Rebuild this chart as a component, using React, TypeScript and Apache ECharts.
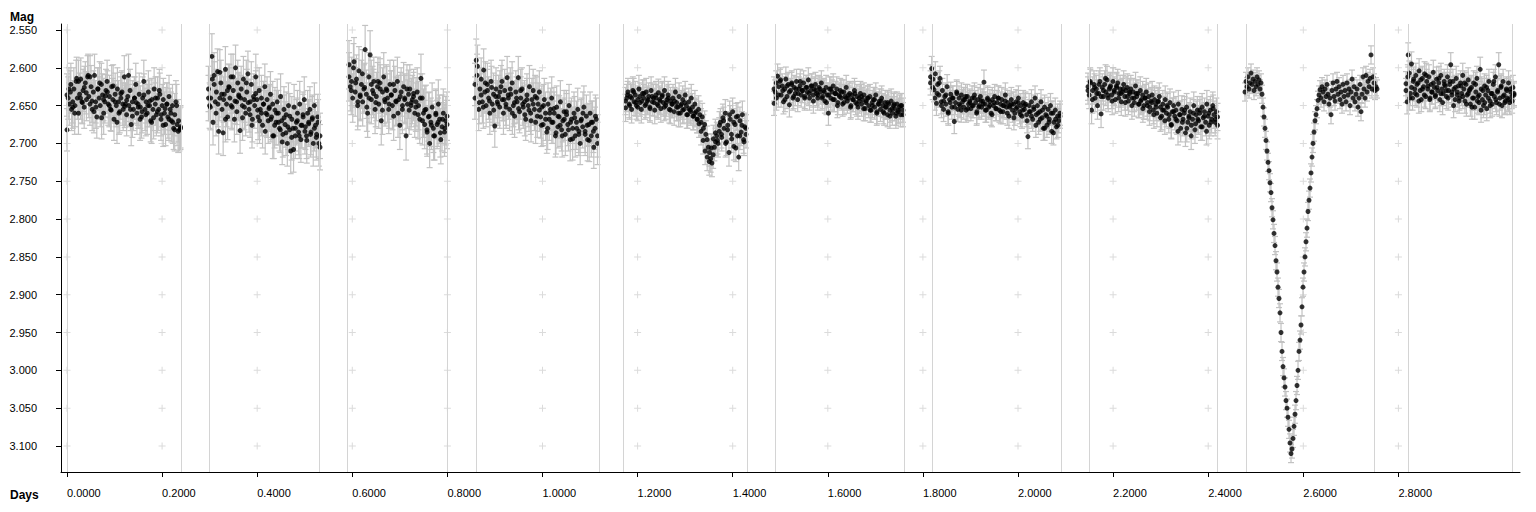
import React, { useEffect, useRef } from "react";
import * as echarts from "echarts";

// Observing sessions (days) and typical error per session
const sessionStart = [0.0, 0.2976, 0.5931, 0.858, 1.1746, 1.4869, 1.816, 2.1472, 2.4774, 2.816];
const sessionEnd = [0.2387, 0.5321, 0.7992, 1.1157, 1.428, 1.7581, 2.0883, 2.4196, 2.755, 3.0431];
const sessionError = [0.028, 0.03, 0.032, 0.028, 0.018, 0.016, 0.016, 0.018, 0.012, 0.016];

const mag1 = [
  2.682, 2.640, 2.648, 2.632, 2.655, 2.645, 2.628, 2.650, 2.618, 2.640,
  2.660, 2.635, 2.615, 2.645, 2.630, 2.652, 2.620, 2.642, 2.612, 2.638,
  2.648, 2.625, 2.655, 2.632, 2.610, 2.645, 2.665, 2.628, 2.640, 2.650,
  2.622, 2.636, 2.660, 2.645, 2.630, 2.618, 2.648, 2.638, 2.655, 2.625,
  2.642, 2.668, 2.635, 2.650, 2.628, 2.645, 2.658, 2.640, 2.632, 2.655,
  2.612, 2.648, 2.662, 2.638, 2.650, 2.630, 2.675, 2.645, 2.655, 2.640,
  2.622, 2.660, 2.648, 2.635, 2.652, 2.665, 2.640, 2.618, 2.655, 2.645,
  2.660, 2.632, 2.650, 2.670, 2.642, 2.655, 2.628, 2.648, 2.662, 2.640,
  2.655, 2.635, 2.668, 2.650, 2.642, 2.660, 2.675, 2.648, 2.665, 2.638,
  2.655, 2.670, 2.650, 2.680, 2.662, 2.645, 2.675, 2.684, 2.682, 2.680,
];
const mag1b = [
  2.636, 2.628, 2.622, 2.652, 2.660, 2.614, 2.618, 2.640, 2.646, 2.626,
  2.633, 2.610, 2.612, 2.644, 2.658, 2.652, 2.628, 2.620, 2.666, 2.642,
  2.637, 2.632, 2.650, 2.656, 2.624, 2.645, 2.672, 2.660, 2.634, 2.648,
  2.651, 2.643, 2.610, 2.655, 2.664, 2.640, 2.646, 2.652, 2.668, 2.658,
  2.636, 2.662, 2.650, 2.644, 2.672, 2.666, 2.640, 2.658, 2.630, 2.662,
  2.676, 2.654, 2.648, 2.668, 2.660, 2.672, 2.682, 2.650, 2.670, 2.678,
];
const mag2 = [
  2.628, 2.650, 2.640, 2.585, 2.672, 2.610, 2.645, 2.632, 2.605, 2.684,
  2.640, 2.620, 2.655, 2.686, 2.635, 2.602, 2.648, 2.665, 2.625, 2.640,
  2.612, 2.652, 2.630, 2.668, 2.600, 2.645, 2.620, 2.638, 2.683, 2.628,
  2.650, 2.615, 2.642, 2.660, 2.632, 2.608, 2.655, 2.645, 2.622, 2.668,
  2.638, 2.650, 2.612, 2.642, 2.665, 2.630, 2.655, 2.640, 2.676, 2.648,
  2.625, 2.660, 2.642, 2.670, 2.652, 2.635, 2.665, 2.648, 2.690, 2.656,
  2.672, 2.645, 2.660, 2.680, 2.638, 2.670, 2.688, 2.655, 2.675, 2.662,
  2.700, 2.650, 2.682, 2.710, 2.668, 2.680, 2.652, 2.690, 2.672, 2.660,
  2.685, 2.648, 2.695, 2.676, 2.665, 2.642, 2.678, 2.690, 2.660, 2.672,
  2.655, 2.685, 2.668, 2.700, 2.650, 2.676, 2.688, 2.665, 2.700, 2.705,
];
const mag2b = [
  2.640, 2.652, 2.615, 2.622, 2.660, 2.648, 2.606, 2.635, 2.642, 2.668,
  2.630, 2.626, 2.650, 2.612, 2.644, 2.658, 2.636, 2.640, 2.666, 2.652,
  2.620, 2.646, 2.662, 2.676, 2.642, 2.634, 2.656, 2.670, 2.660, 2.648,
  2.684, 2.662, 2.654, 2.668, 2.690, 2.676, 2.660, 2.672, 2.682, 2.698,
  2.666, 2.686, 2.678, 2.664, 2.692, 2.708, 2.680, 2.670, 2.690, 2.676,
  2.662, 2.684, 2.696, 2.674, 2.688, 2.666, 2.680, 2.692, 2.672, 2.690,
];
const mag3 = [
  2.596, 2.625, 2.618, 2.640, 2.592, 2.632, 2.615, 2.650, 2.604, 2.638,
  2.622, 2.645, 2.628, 2.576, 2.635, 2.660, 2.612, 2.583, 2.642, 2.630,
  2.618, 2.655, 2.638, 2.625, 2.648, 2.620, 2.670, 2.632, 2.612, 2.645,
  2.628, 2.640, 2.655, 2.622, 2.636, 2.650, 2.664, 2.630, 2.645, 2.618,
  2.642, 2.676, 2.632, 2.655, 2.625, 2.640, 2.690, 2.648, 2.635, 2.628,
  2.650, 2.642, 2.638, 2.660, 2.645, 2.632, 2.650, 2.668, 2.614, 2.640,
  2.660, 2.675, 2.655, 2.685, 2.665, 2.700, 2.672, 2.652, 2.680, 2.690,
  2.660, 2.675, 2.648, 2.668, 2.695, 2.678, 2.660, 2.685, 2.670, 2.675,
];
const mag3b = [
  2.612, 2.630, 2.600, 2.620, 2.645, 2.636, 2.608, 2.626, 2.652, 2.640,
  2.622, 2.634, 2.646, 2.618, 2.628, 2.656, 2.642, 2.630, 2.648, 2.636,
  2.622, 2.644, 2.660, 2.638, 2.650, 2.642, 2.628, 2.656, 2.646, 2.634,
  2.652, 2.662, 2.640, 2.670, 2.656, 2.682, 2.664, 2.676, 2.690, 2.662,
  2.672, 2.686, 2.668, 2.680, 2.664,
];
const mag4 = [
  2.640, 2.590, 2.598, 2.655, 2.628, 2.615, 2.645, 2.603, 2.632, 2.650,
  2.622, 2.640, 2.660, 2.618, 2.648, 2.635, 2.677, 2.628, 2.645, 2.638,
  2.652, 2.625, 2.642, 2.660, 2.630, 2.648, 2.613, 2.640, 2.655, 2.635,
  2.620, 2.650, 2.664, 2.632, 2.645, 2.613, 2.658, 2.640, 2.628, 2.652,
  2.645, 2.668, 2.636, 2.650, 2.625, 2.660, 2.642, 2.630, 2.655, 2.672,
  2.640, 2.648, 2.632, 2.665, 2.652, 2.675, 2.642, 2.660, 2.685, 2.648,
  2.668, 2.655, 2.640, 2.672, 2.660, 2.690, 2.652, 2.678, 2.665, 2.645,
  2.682, 2.670, 2.658, 2.688, 2.662, 2.675, 2.650, 2.695, 2.668, 2.680,
  2.660, 2.690, 2.672, 2.655, 2.684, 2.700, 2.668, 2.678, 2.652, 2.688,
  2.664, 2.695, 2.675, 2.660, 2.690, 2.672, 2.705, 2.680, 2.668, 2.700,
];
const mag4b = [
  2.622, 2.610, 2.646, 2.636, 2.652, 2.620, 2.630, 2.644, 2.626, 2.656,
  2.638, 2.648, 2.632, 2.618, 2.642, 2.652, 2.636, 2.628, 2.660, 2.646,
  2.640, 2.654, 2.630, 2.648, 2.662, 2.642, 2.656, 2.670, 2.648, 2.638,
  2.664, 2.656, 2.676, 2.650, 2.668, 2.680, 2.660, 2.672, 2.654, 2.686,
  2.664, 2.676, 2.690, 2.668, 2.658, 2.682, 2.672, 2.694, 2.666, 2.680,
  2.688, 2.670, 2.660, 2.684, 2.676, 2.696, 2.672, 2.684, 2.664, 2.690,
];
const mag5 = [
  2.653, 2.640, 2.632, 2.648, 2.638, 2.655, 2.630, 2.645, 2.636, 2.650,
  2.642, 2.628, 2.646, 2.655, 2.634, 2.640, 2.650, 2.632, 2.644, 2.638,
  2.652, 2.630, 2.645, 2.640, 2.656, 2.636, 2.648, 2.633, 2.642, 2.654,
  2.638, 2.646, 2.630, 2.650, 2.642, 2.636, 2.655, 2.644, 2.648, 2.640,
  2.658, 2.632, 2.646, 2.652, 2.638, 2.660, 2.648, 2.642, 2.655, 2.636,
  2.650, 2.662, 2.645, 2.656, 2.640, 2.652, 2.664, 2.648, 2.658, 2.668,
  2.655, 2.662, 2.672, 2.665, 2.680, 2.675, 2.688, 2.695, 2.705, 2.712,
  2.720, 2.726, 2.715, 2.705, 2.698, 2.690, 2.700, 2.684, 2.672, 2.692,
  2.666, 2.680, 2.660, 2.698, 2.676, 2.712, 2.668, 2.688, 2.658, 2.704,
  2.675, 2.665, 2.690, 2.718, 2.670, 2.685, 2.662, 2.695, 2.678, 2.688,
];
const mag5b = [
  2.644, 2.636, 2.650, 2.640, 2.632, 2.646, 2.652, 2.638, 2.644, 2.634,
  2.648, 2.642, 2.654, 2.638, 2.646, 2.640, 2.650, 2.644, 2.636, 2.652,
  2.646, 2.640, 2.656, 2.648, 2.644, 2.652, 2.660, 2.650, 2.656, 2.646,
  2.662, 2.654, 2.658, 2.664, 2.660, 2.668, 2.674, 2.684, 2.696, 2.710,
  2.718, 2.724, 2.706, 2.694, 2.686, 2.696, 2.676, 2.688, 2.670, 2.700,
  2.682, 2.662, 2.694, 2.672, 2.706, 2.664, 2.690, 2.676, 2.698, 2.680,
];
const mag6 = [
  2.647, 2.632, 2.640, 2.611, 2.625, 2.618, 2.636, 2.624, 2.645, 2.628,
  2.615, 2.638, 2.622, 2.649, 2.630, 2.620, 2.640, 2.626, 2.634, 2.618,
  2.642, 2.628, 2.624, 2.636, 2.630, 2.620, 2.638, 2.626, 2.632, 2.616,
  2.640, 2.630, 2.624, 2.636, 2.628, 2.622, 2.634, 2.640, 2.626, 2.632,
  2.620, 2.638, 2.630, 2.644, 2.626, 2.636, 2.660, 2.628, 2.640, 2.632,
  2.624, 2.642, 2.634, 2.628, 2.646, 2.636, 2.630, 2.640, 2.648, 2.632,
  2.638, 2.626, 2.644, 2.640, 2.634, 2.650, 2.636, 2.642, 2.630, 2.646,
  2.638, 2.652, 2.640, 2.634, 2.648, 2.642, 2.636, 2.654, 2.644, 2.640,
  2.650, 2.638, 2.656, 2.646, 2.642, 2.652, 2.636, 2.658, 2.648, 2.644,
  2.655, 2.640, 2.650, 2.660, 2.646, 2.652, 2.662, 2.648, 2.656, 2.644,
  2.660, 2.650, 2.654, 2.664, 2.648, 2.658, 2.652, 2.662, 2.650, 2.656,
];
const mag6b = [
  2.628, 2.620, 2.636, 2.616, 2.630, 2.642, 2.624, 2.632, 2.622, 2.638,
  2.628, 2.634, 2.618, 2.630, 2.640, 2.626, 2.634, 2.624, 2.644, 2.630,
  2.636, 2.628, 2.640, 2.632, 2.646, 2.636, 2.628, 2.642, 2.634, 2.650,
  2.638, 2.632, 2.646, 2.640, 2.636, 2.652, 2.642, 2.634, 2.648, 2.644,
  2.638, 2.654, 2.646, 2.640, 2.656, 2.650, 2.642, 2.660, 2.648, 2.644,
  2.658, 2.652, 2.646, 2.664, 2.654, 2.648, 2.660, 2.656, 2.650, 2.662,
];
const mag7 = [
  2.620, 2.601, 2.615, 2.629, 2.608, 2.647, 2.622, 2.636, 2.614, 2.645,
  2.630, 2.655, 2.638, 2.648, 2.625, 2.660, 2.642, 2.635, 2.652, 2.640,
  2.671, 2.646, 2.632, 2.655, 2.640, 2.650, 2.636, 2.645, 2.652, 2.642,
  2.656, 2.638, 2.648, 2.644, 2.654, 2.640, 2.650, 2.636, 2.646, 2.658,
  2.642, 2.650, 2.638, 2.652, 2.644, 2.619, 2.648, 2.656, 2.640, 2.652,
  2.645, 2.660, 2.642, 2.650, 2.638, 2.654, 2.646, 2.640, 2.656, 2.648,
  2.642, 2.658, 2.650, 2.636, 2.652, 2.646, 2.664, 2.650, 2.642, 2.656,
  2.648, 2.660, 2.645, 2.652, 2.640, 2.658, 2.650, 2.664, 2.646, 2.655,
  2.648, 2.662, 2.691, 2.650, 2.658, 2.645, 2.668, 2.655, 2.640, 2.662,
  2.650, 2.672, 2.658, 2.645, 2.666, 2.680, 2.652, 2.662, 2.676, 2.655,
  2.668, 2.650, 2.684, 2.660, 2.672, 2.656, 2.678, 2.664, 2.670, 2.660,
];
const mag7b = [
  2.612, 2.626, 2.640, 2.634, 2.620, 2.650, 2.644, 2.636, 2.658, 2.646,
  2.640, 2.652, 2.634, 2.648, 2.656, 2.642, 2.638, 2.654, 2.646, 2.650,
  2.640, 2.660, 2.652, 2.644, 2.648, 2.656, 2.642, 2.650, 2.662, 2.646,
  2.654, 2.640, 2.658, 2.650, 2.644, 2.660, 2.652, 2.648, 2.666, 2.654,
  2.646, 2.662, 2.656, 2.650, 2.670, 2.658, 2.664, 2.652, 2.676, 2.660,
  2.668, 2.656, 2.680, 2.664, 2.672, 2.660, 2.686, 2.668, 2.676, 2.664,
];
const mag8 = [
  2.625, 2.636, 2.620, 2.656, 2.630, 2.622, 2.640, 2.628, 2.650, 2.634,
  2.618, 2.661, 2.626, 2.638, 2.622, 2.632, 2.616, 2.640, 2.628, 2.624,
  2.636, 2.618, 2.630, 2.642, 2.626, 2.620, 2.634, 2.628, 2.645, 2.632,
  2.622, 2.638, 2.630, 2.626, 2.644, 2.634, 2.628, 2.640, 2.632, 2.646,
  2.624, 2.638, 2.634, 2.648, 2.630, 2.642, 2.636, 2.650, 2.640, 2.632,
  2.646, 2.638, 2.652, 2.644, 2.636, 2.656, 2.642, 2.648, 2.660, 2.645,
  2.638, 2.652, 2.664, 2.648, 2.656, 2.642, 2.660, 2.652, 2.668, 2.646,
  2.675, 2.658, 2.650, 2.664, 2.656, 2.670, 2.648, 2.662, 2.680, 2.655,
  2.668, 2.660, 2.686, 2.652, 2.672, 2.664, 2.658, 2.676, 2.668, 2.650,
  2.682, 2.662, 2.656, 2.670, 2.660, 2.678, 2.652, 2.666, 2.658, 2.672,
  2.648, 2.664, 2.676, 2.656, 2.668, 2.650, 2.662, 2.672, 2.658, 2.665,
];
const mag8b = [
  2.630, 2.618, 2.642, 2.626, 2.634, 2.622, 2.638, 2.630, 2.614, 2.636,
  2.626, 2.644, 2.632, 2.624, 2.640, 2.634, 2.628, 2.646, 2.638, 2.632,
  2.650, 2.640, 2.634, 2.648, 2.644, 2.654, 2.640, 2.650, 2.658, 2.646,
  2.662, 2.652, 2.644, 2.666, 2.656, 2.670, 2.650, 2.662, 2.676, 2.658,
  2.668, 2.684, 2.662, 2.672, 2.656, 2.680, 2.666, 2.690, 2.660, 2.674,
  2.668, 2.656, 2.678, 2.664, 2.684, 2.660, 2.672, 2.654, 2.668, 2.676,
];
const mag9 = [
  2.632, 2.618, 2.625, 2.612, 2.628, 2.620, 2.607, 2.622, 2.615, 2.630,
  2.618, 2.625, 2.612, 2.622, 2.616, 2.628, 2.620, 2.635, 2.652, 2.665,
  2.680, 2.696, 2.710, 2.725, 2.736, 2.752, 2.765, 2.785, 2.801, 2.819,
  2.835, 2.855, 2.870, 2.890, 2.905, 2.924, 2.950, 2.975, 2.995, 3.010,
  3.022, 3.040, 3.050, 3.062, 3.078, 3.096, 3.110, 3.104, 3.090, 3.074,
  3.058, 3.040, 3.020, 3.000, 2.975, 2.960, 2.940, 2.916, 2.890, 2.870,
  2.850, 2.830, 2.812, 2.790, 2.775, 2.759, 2.739, 2.718, 2.700, 2.685,
  2.670, 2.662, 2.654, 2.643, 2.636, 2.629, 2.640, 2.625, 2.632, 2.645,
  2.628, 2.638, 2.622, 2.635, 2.648, 2.640, 2.662, 2.630, 2.620, 2.638,
  2.644, 2.628, 2.618, 2.635, 2.625, 2.642, 2.632, 2.648, 2.622, 2.638,
  2.630, 2.645, 2.620, 2.636, 2.628, 2.650, 2.632, 2.615, 2.640, 2.625,
  2.645, 2.635, 2.628, 2.652, 2.640, 2.622, 2.658, 2.635, 2.612, 2.628,
  2.640, 2.610, 2.632, 2.618, 2.625, 2.614, 2.583, 2.628, 2.612, 2.620,
  2.630, 2.625, 2.628,
];
const mag10 = [
  2.621, 2.645, 2.583, 2.607, 2.634, 2.595, 2.640, 2.615, 2.628, 2.610,
  2.636, 2.620, 2.604, 2.630, 2.642, 2.614, 2.625, 2.608, 2.638, 2.618,
  2.628, 2.612, 2.640, 2.622, 2.632, 2.606, 2.626, 2.636, 2.615, 2.630,
  2.620, 2.642, 2.610, 2.628, 2.634, 2.618, 2.624, 2.638, 2.612, 2.630,
  2.622, 2.596, 2.636, 2.618, 2.628, 2.642, 2.614, 2.632, 2.624, 2.640,
  2.620, 2.634, 2.610, 2.628, 2.644, 2.622, 2.636, 2.616, 2.630, 2.648,
  2.626, 2.640, 2.620, 2.652, 2.632, 2.614, 2.638, 2.646, 2.602, 2.628,
  2.642, 2.650, 2.624, 2.636, 2.654, 2.630, 2.618, 2.644, 2.634, 2.648,
  2.622, 2.638, 2.612, 2.646, 2.630, 2.596, 2.640, 2.626, 2.650, 2.618,
  2.636, 2.644, 2.628, 2.640, 2.620, 2.646, 2.632, 2.638, 2.626, 2.634,
];
const mag10b = [
  2.630, 2.612, 2.640, 2.626, 2.618, 2.634, 2.622, 2.644, 2.616, 2.628,
  2.636, 2.610, 2.624, 2.642, 2.632, 2.620, 2.638, 2.626, 2.614, 2.634,
  2.646, 2.622, 2.630, 2.640, 2.618, 2.632, 2.650, 2.626, 2.636, 2.644,
  2.624, 2.638, 2.620, 2.648, 2.634, 2.628, 2.652, 2.640, 2.622, 2.644,
  2.636, 2.656, 2.630, 2.646, 2.626, 2.640, 2.650, 2.634, 2.618, 2.642,
  2.632, 2.648, 2.624, 2.638, 2.646, 2.630, 2.642, 2.628, 2.644, 2.636,
];

// Two interleaved runs of readings per session
const sessionMags = [mag1, mag2, mag3, mag4, mag5, mag6, mag7, mag8, mag9, mag10];
const sessionMagsB = [mag1b, mag2b, mag3b, mag4b, mag5b, mag6b, mag7b, mag8b, [], mag10b];

const xTicks = [0, 0.2, 0.4, 0.6, 0.8, 1.0, 1.2, 1.4, 1.6, 1.8, 2.0, 2.2, 2.4, 2.6, 2.8];
const yTicks = [2.55, 2.6, 2.65, 2.7, 2.75, 2.8, 2.85, 2.9, 2.95, 3.0, 3.05, 3.1];

const FONT = "'Liberation Sans', Arial, sans-serif";

export default function App() {
  const ref = useRef<HTMLDivElement>(null);

  useEffect(() => {
    document.body.style.margin = "0";
    if (!ref.current) return;
    const chart = echarts.init(ref.current, undefined, { renderer: "svg" });

    const points: number[][] = [];
    const addRun = (mags: number[], s: number) => {
      const t0 = sessionStart[s];
      const t1 = sessionEnd[s];
      const n = mags.length;
      mags.forEach((m, i) => {
        const t = t0 + ((t1 - t0) * i) / Math.max(1, n - 1);
        points.push([t, m, sessionError[s]]);
      });
    };
    sessionMags.forEach((mags, s) => addRun(mags, s));
    sessionMagsB.forEach((mags, s) => addRun(mags, s));

    const crosses: number[][] = [];
    xTicks.forEach((x) => yTicks.forEach((y) => crosses.push([x, y])));

    const separators: number[] = [];
    sessionStart.forEach((t, i) => {
      separators.push(t, sessionEnd[i]);
    });

    const option: any = {
      animation: false,
      grid: { left: 61, top: 24, right: 16, bottom: 40, containLabel: false },
      xAxis: {
        type: "value",
        min: -0.0126,
        max: 3.0557,
        axisLine: { show: true, onZero: false, lineStyle: { color: "#000", width: 1 } },
        axisTick: { show: true, customValues: xTicks, length: 5, lineStyle: { color: "#000" } },
        axisLabel: {
          customValues: xTicks,
          formatter: (v: number) => v.toFixed(4),
          align: "left",
          margin: 15,
          color: "#000",
          fontSize: 11,
          fontFamily: FONT,
        },
        splitLine: { show: false },
      },
      yAxis: {
        type: "value",
        inverse: true,
        min: 2.5421,
        max: 3.1344,
        axisLine: { show: true, onZero: false, lineStyle: { color: "#000", width: 1 } },
        axisTick: { show: true, customValues: yTicks, length: 5, lineStyle: { color: "#000" } },
        axisLabel: {
          customValues: yTicks,
          formatter: (v: number) => v.toFixed(3),
          margin: 24,
          color: "#000",
          fontSize: 11,
          fontFamily: FONT,
        },
        splitLine: { show: false },
      },
      graphic: [
        { type: "text", left: 10, top: 11, style: { text: "Mag", font: `bold 12px ${FONT}`, fill: "#000" } },
        { type: "text", left: 10, top: 489, style: { text: "Days", font: `bold 12px ${FONT}`, fill: "#000" } },
      ],
      series: [
        {
          type: "scatter",
          data: crosses,
          symbol: "path://M3,0h1v7h-1zM0,3h7v1h-7z",
          symbolSize: 7,
          itemStyle: { color: "#d2d2d2" },
          silent: true,
          z: 1,
          markLine: {
            silent: true,
            symbol: ["none", "none"],
            label: { show: false },
            lineStyle: { color: "#d4d4d4", width: 1, type: "solid" },
            emphasis: { disabled: true },
            data: separators.map((t) => ({ xAxis: t })),
          },
        },
        {
          type: "custom",
          data: points,
          encode: { x: 0, y: 1 },
          silent: true,
          z: 2,
          renderItem: (_params: any, api: any) => {
            const t = api.value(0);
            const m = api.value(1);
            const e = api.value(2);
            const a = api.coord([t, m - e]);
            const b = api.coord([t, m + e]);
            const w = 3;
            const style = { stroke: "#c2c2c2", lineWidth: 1.2 };
            return {
              type: "group",
              children: [
                { type: "line", shape: { x1: a[0], y1: a[1], x2: b[0], y2: b[1] }, style },
                { type: "line", shape: { x1: a[0] - w, y1: a[1], x2: a[0] + w, y2: a[1] }, style },
                { type: "line", shape: { x1: b[0] - w, y1: b[1], x2: b[0] + w, y2: b[1] }, style },
              ],
            };
          },
        },
        {
          type: "scatter",
          data: points.map((p) => [p[0], p[1]]),
          symbol: "circle",
          symbolSize: 5,
          itemStyle: { color: "#000" },
          silent: true,
          z: 3,
        },
      ],
    };

    chart.setOption(option);
    return () => chart.dispose();
  }, []);

  return <div ref={ref} style={{ width: 1536, height: 512 }} />;
}
